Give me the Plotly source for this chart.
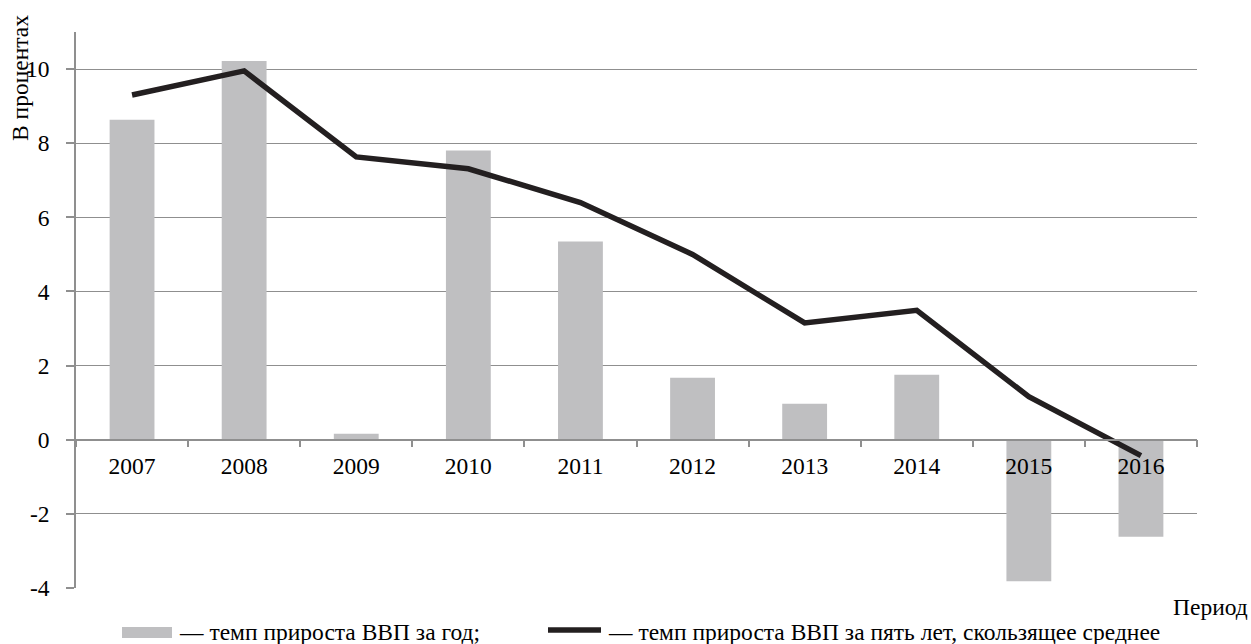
import plotly.graph_objects as go

years = ["2007", "2008", "2009", "2010", "2011", "2012", "2013", "2014", "2015", "2016"]
annual_growth = [8.63, 10.22, 0.16, 7.8, 5.35, 1.67, 0.97, 1.75, -3.82, -2.62]
five_year_avg = [9.30, 9.95, 7.63, 7.31, 6.40, 5.00, 3.15, 3.49, 1.16, -0.43]
y_ticks = [-4, -2, 0, 2, 4, 6, 8, 10]
y_tick_text = ["-4", "-2", "0", "2", "4", "6", "8", "10"]

legend_bar = "— темп прироста ВВП за год;"
legend_line = "— темп прироста ВВП за пять лет, скользящее среднее"
x_title = "Период"
y_title = "В процентах"

FONT = "Liberation Serif, Times New Roman, serif"
FS = 23.5
GRID = "#8f8f8f"
BAR = "#BFBFC1"
LINE = "#231F20"

W, H = 1251, 644
L, R, T, B = 76, 54, 32, 56
PW = W - L - R
PH = H - T - B
YMIN, YMAX = -4, 11


def px(x):
    return (x - L) / PW


def py(y):
    return (H - B - y) / PH


fig = go.Figure()
fig.add_trace(go.Bar(x=years, y=annual_growth, marker=dict(color=BAR, line=dict(width=0)),
                     name=legend_bar, showlegend=False))
fig.add_trace(go.Scatter(x=years, y=five_year_avg, mode="lines",
                         line=dict(color=LINE, width=5.5), name=legend_line, showlegend=False))

fig.update_layout(
    width=W, height=H,
    margin=dict(l=L, r=R, t=T, b=B, pad=0),
    paper_bgcolor="white", plot_bgcolor="white",
    font=dict(family=FONT, size=FS, color="black"),
    bargap=0.6,
    xaxis=dict(
        type="category", anchor="free", position=(0 - YMIN) / (YMAX - YMIN),
        showline=True, linecolor=GRID, linewidth=1.5,
        ticks="outside", tickson="boundaries", ticklen=7, tickcolor=GRID, tickwidth=1.5,
        showgrid=False, tickfont=dict(family=FONT, size=FS), ticklabelstandoff=5,
    ),
    yaxis=dict(
        range=[YMIN, YMAX], tickvals=y_ticks, ticktext=y_tick_text,
        showgrid=True, gridcolor=GRID, gridwidth=1,
        zeroline=False, showline=True, linecolor=GRID, linewidth=1.5,
        ticks="outside", ticklen=8, tickcolor=GRID, tickwidth=1.5,
        tickfont=dict(family=FONT, size=FS), ticklabelstandoff=12,
    ),
)

shapes = [
    dict(type="rect", xref="paper", yref="paper", x0=px(122), x1=px(172), y0=py(638), y1=py(627),
         fillcolor=BAR, line=dict(width=0)),
    dict(type="line", xref="paper", yref="paper", x0=px(548), x1=px(601), y0=py(630), y1=py(630),
         line=dict(color=LINE, width=5.5)),
]
annotations = [
    dict(text=legend_bar, xref="paper", yref="paper", x=px(177), y=py(632), xanchor="left",
         yanchor="middle", showarrow=False, font=dict(family=FONT, size=FS)),
    dict(text=legend_line, xref="paper", yref="paper", x=px(606), y=py(632), xanchor="left",
         yanchor="middle", showarrow=False, font=dict(family=FONT, size=FS)),
    dict(text=x_title, xref="paper", yref="paper", x=px(1250), y=py(607), xanchor="right",
         yanchor="middle", showarrow=False, font=dict(family=FONT, size=FS)),
    dict(text=y_title, xref="paper", yref="paper", x=px(20), y=py(78), xanchor="center",
         yanchor="middle", textangle=-90, showarrow=False, font=dict(family=FONT, size=FS)),
]
fig.update_layout(shapes=shapes, annotations=annotations)

fig.write_html("out.html", config={"displayModeBar": False},
               post_script="document.body.style.margin='0';document.body.style.overflow='hidden';")
